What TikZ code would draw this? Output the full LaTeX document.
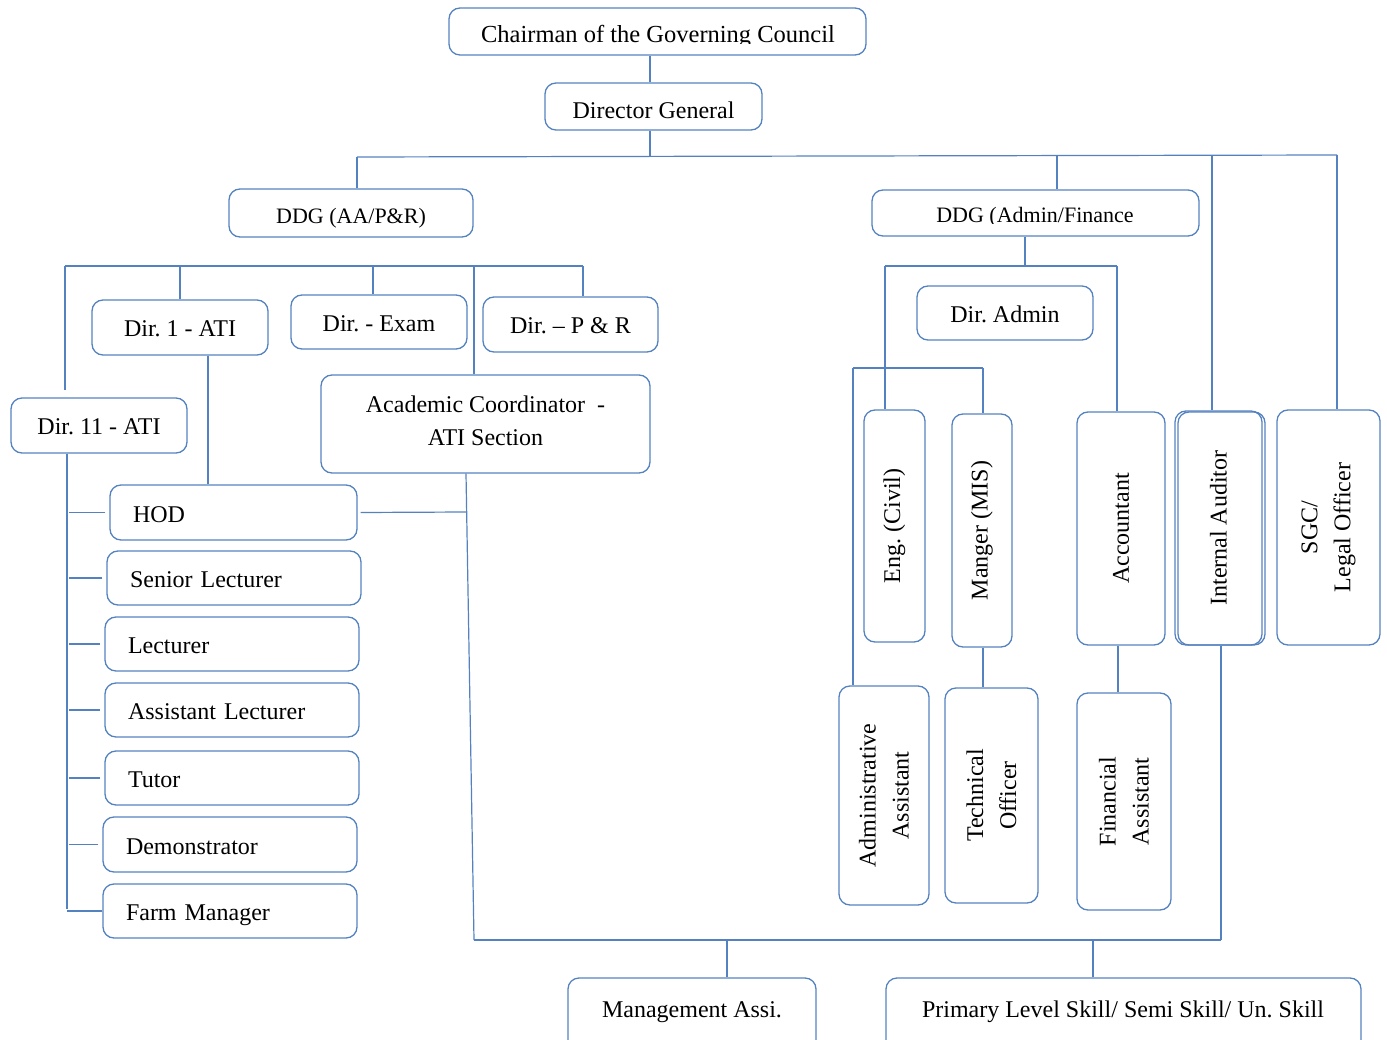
\documentclass[tikz,border=0pt]{standalone}
\usepackage{fontspec}
\setmainfont{Liberation Serif}
\frenchspacing
\definecolor{bl}{RGB}{84,130,192}
\newcommand{\mainfs}{\fontsize{24}{33}\selectfont}
\newcommand{\ddgfs}{\fontsize{22}{28}\selectfont}
\tikzset{
  obox/.style={draw=bl, line width=1.3pt, rounded corners=11pt, inner sep=0pt, font=\mainfs, align=center},
  oneline/.style={text height=19pt, text depth=0pt},
  txt/.style={inner sep=0pt, font=\mainfs, align=center},
  ln/.style={draw=bl, line width=1.2pt},
}
\newcommand{\BX}[6]{\node[obox,oneline,minimum width={(#4-#2)*1pt},minimum height={(#5-#3)*1pt}] (#1) at ({(#2+#4)/2},{(#3+#5)/2}) {#6};}
\newcommand{\BXL}[6]{\node[obox,oneline,align=left,inner xsep=23pt,text width={(#4-#2-46)*1pt},minimum height={(#5-#3)*1pt}] (#1) at ({(#2+#4)/2},{(#3+#5)/2}) {#6};}
\newcommand{\RT}[3]{\node[txt,rotate=90] (#1) at (#2) {#3};}
\begin{document}
\begin{tikzpicture}[x=1pt,y=-1pt]
\useasboundingbox (0,0) rectangle (1387,1040);
\clip (0,0) rectangle (1387,1040);

% ---------- top ----------
\BX{chair}{449}{8}{866}{55}{}
\begin{scope}
\clip (449,8) rectangle (866,43.5);
\node[txt,anchor=base,font=\fontsize{24.5}{30}\selectfont] (chairt) at (658,43) {Chairman of the Governing Council};
\end{scope}
\node[obox,text height=24pt,text depth=0pt,minimum width=217pt,minimum height=47pt] (dg) at (653.5,106.5) {Director General};

\node[obox,text height=22pt,text depth=0pt,minimum width=244pt,minimum height=48pt,font=\ddgfs] (ddga) at (351,213) {DDG (AA/P\&R)};
\BX{ddgb}{872}{190}{1199}{236}{}
\begin{scope}
\clip (872,190) rectangle (1199,223.5);
\node[txt,anchor=base,font=\ddgfs] (ddgbt) at (1035,223) {DDG (Admin/Finance};
\end{scope}

% ---------- left branch ----------
\BX{dir1}{92}{300}{268}{355}{Dir. 1 - ATI}
\BX{direx}{291}{295}{467}{349}{Dir. - Exam}
\BX{dirpr}{483}{297}{658}{352}{Dir. -- P \& R}
\BX{acad}{321}{375}{650}{473}{}
\node[txt] (acadt) at (485.5,420.5) {Academic Coordinator\ \ -\\ATI Section};
\BX{dir11}{11}{398}{187}{453}{Dir. 11 - ATI}
\BXL{hod}{110}{485}{357}{540}{HOD}
\BXL{sl}{107}{551}{361}{605}{Senior Lecturer}
\BXL{lec}{105}{617}{359}{671}{Lecturer}
\BXL{al}{105}{683}{359}{737}{Assistant Lecturer}
\BXL{tut}{105}{751}{359}{805}{Tutor}
\BXL{dem}{103}{817}{357}{872}{Demonstrator}
\BXL{fm}{103}{884}{357}{938}{Farm Manager}

% ---------- right branch ----------
\BX{diradm}{917}{286}{1093}{340}{Dir. Admin}
\BX{eng}{864}{410}{925}{642}{}\RT{engt}{eng}{Eng. (Civil)}
\BX{mis}{952}{414}{1012}{647}{}\RT{mist}{mis}{Manger (MIS)}
\BX{acc}{1077}{412}{1165}{645}{}\RT{acct}{acc}{Accountant}
\BX{iab}{1178}{412}{1265}{645}{}
\BX{ia}{1175}{411}{1262}{645}{}\RT{iat}{ia}{Internal Auditor}
\BX{sgc}{1277}{410}{1380}{645}{}\RT{sgct}{sgc}{SGC/\\Legal Officer}
\BX{aa}{839}{686}{929}{905}{}\RT{aat}{aa}{Administrative\\Assistant}
\BX{to}{945}{688}{1038}{903}{}\RT{tot}{to}{Technical\\Officer}
\BX{fa}{1077}{693}{1171}{910}{}\RT{fat}{fa}{Financial\\Assistant}

% ---------- bottom ----------
\BX{ma}{568}{978}{816}{1052}{}
\node[txt,oneline] (mat) at (692,1008) {Management Assi.};
\BX{pl}{886}{978}{1361}{1052}{}
\node[txt,oneline] (plt) at (1123,1008) {Primary Level Skill/ Semi Skill/ Un. Skill};

% ---------- connectors ----------
\coordinate (c1) at (650,156);
\draw[ln] (chair.south -| c1) -- (dg.north -| c1);
\draw[ln] (dg.south -| c1) -- (c1);
\coordinate (tbL) at (357,157);
\coordinate (tbR) at (1337,155);
\draw[ln] (tbL) -- (tbR);
\draw[ln] (tbL) -- (tbL |- ddga.north);
\coordinate (t2) at (1057,156);
\draw[ln] (t2) -- (t2 |- ddgb.north);
\coordinate (t3) at (1212,156);
\draw[ln] (t3) -- (t3 |- ia.north);
\draw[ln] (tbR) -- (tbR |- sgc.north);

% left bus
\coordinate (lbL) at (65,266);
\coordinate (lbR) at (583,266);
\draw[ln] (lbL) -- (lbR);
\coordinate (lb11) at (65,390);
\draw[ln] (lbL) -- (lb11);
\coordinate (lb1) at (180,266);
\draw[ln] (lb1) -- (lb1 |- dir1.north);
\coordinate (lbE) at (373,266);
\draw[ln] (lbE) -- (lbE |- direx.north);
\coordinate (lbA) at (474,266);
\draw[ln] (lbA) -- (lbA |- acad.north);
\draw[ln] (lbR) -- (lbR |- dirpr.north);

% Dir 1 to HOD
\coordinate (d1) at (208,0);
\draw[ln] (dir1.south -| d1) -- (hod.north -| d1);

% Dir 11 trunk and ticks
\coordinate (s11) at (67,909);
\draw[ln] (dir11.south -| s11) -- (s11);
\coordinate (tk) at (69,0);
\foreach \n in {hod,sl,lec,al,tut,dem}
  \draw[ln] ([xshift=-4pt]\n.west) -- (\n.west -| tk);
\draw[ln] (fm.west) -- (fm.west -| s11);

% HOD / academic coordinator to bottom bus
\coordinate (ac1) at (466,512);
\draw[ln] ([xshift=3pt]hod.east) -- (ac1);
\coordinate (bbL) at (474,940);
\coordinate (bbR) at (1221,940);
\draw[ln] (acad.south -| ac1) -- (bbL);
\draw[ln] (bbL) -- (bbR);
\draw[ln] (ia.south -| bbR) -- (bbR);
\coordinate (m1) at (727,940);
\draw[ln] (m1) -- (m1 |- ma.north);
\coordinate (m2) at (1093,940);
\draw[ln] (m2) -- (m2 |- pl.north);

% admin / finance branch
\coordinate (r0) at (1025,266);
\draw[ln] (ddgb.south -| r0) -- (r0);
\coordinate (rL) at (885,266);
\coordinate (rR) at (1117,266);
\draw[ln] (rL) -- (rR);
\draw[ln] (rL) -- (rL |- eng.north);
\draw[ln] (rR) -- (rR |- acc.north);
\coordinate (sL) at (853,368);
\coordinate (sR) at (983,368);
\draw[ln] (sL) -- (sR);
\draw[ln] (sL) -- (sL |- aa.north);
\draw[ln] (sR) -- (sR |- mis.north);
\draw[ln] (mis.south -| sR) -- (to.north -| sR);
\coordinate (fx) at (1118,0);
\draw[ln] (acc.south -| fx) -- (fa.north -| fx);
\end{tikzpicture}
\end{document}
